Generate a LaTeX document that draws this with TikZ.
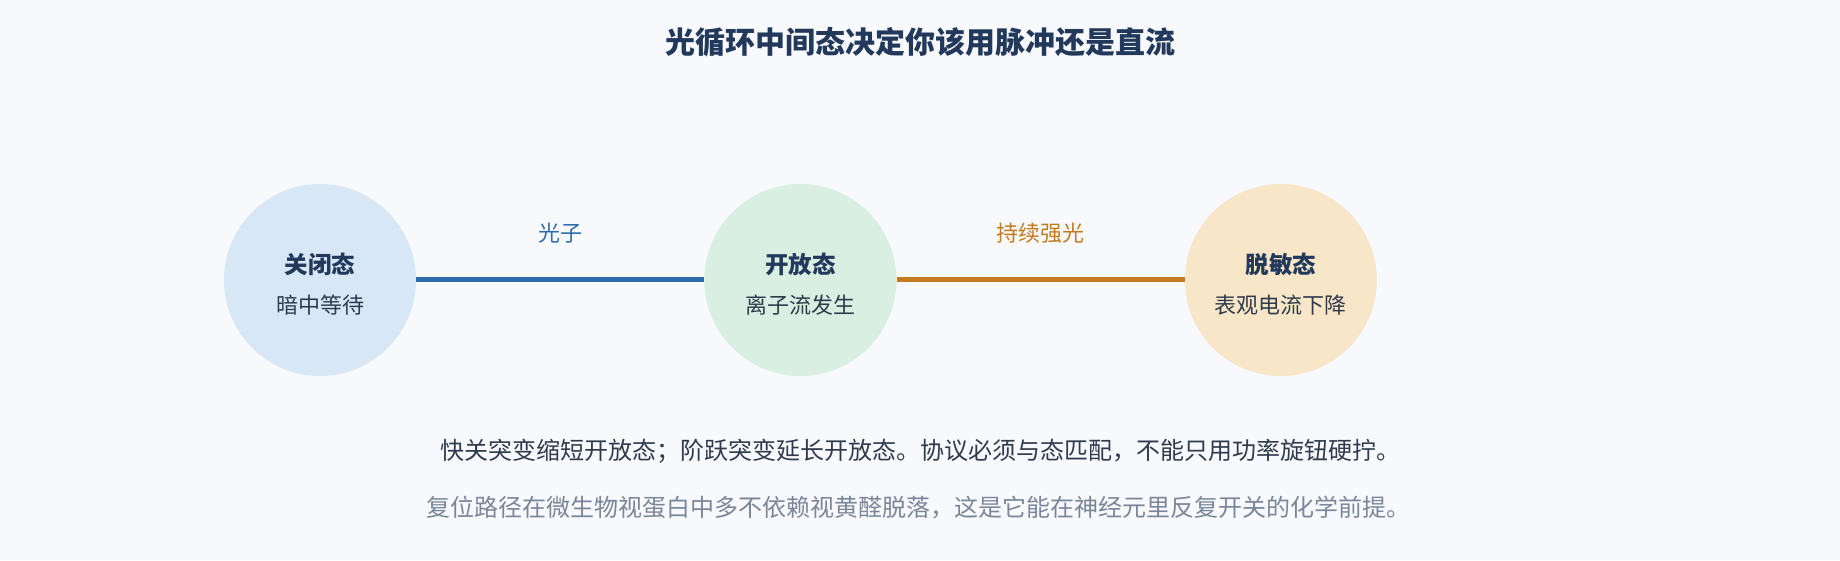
\documentclass[tikz,border=0pt]{standalone}
\usepackage{fontspec}
\setmainfont{Noto Sans CJK SC}
\usetikzlibrary{positioning}

\definecolor{bgcol}{HTML}{F7F9FC}
\definecolor{inkdark}{HTML}{22395C}
\definecolor{inktext}{HTML}{2F3B4D}
\definecolor{inkgrey}{HTML}{7A8699}
\definecolor{lineblue}{HTML}{2F6CAB}
\definecolor{lineorange}{HTML}{C47A1F}
\definecolor{fillblue}{HTML}{D8E7F6}
\definecolor{fillgreen}{HTML}{D8EFE2}
\definecolor{fillorange}{HTML}{F8E6C8}

\newcommand{\statehead}[1]{{\bfseries\fontsize{23.5}{40}\selectfont\color{inkdark}#1}}

\begin{document}
\begin{tikzpicture}[x=1pt, y=1pt,
    node distance = 288pt,
    state/.style = {shape = circle, minimum size = 192pt, inner sep = 0pt},
    statetext/.style = {align = center, text = inktext, yshift = -4pt, font = \fontsize{22}{40}\selectfont},
    closed/.style = {state, fill = fillblue},
    open/.style = {state, fill = fillgreen},
    desens/.style = {state, fill = fillorange},
    link/.style = {line width = 5pt},
    linklabel/.style = {midway, yshift = 47pt, font = \fontsize{22}{26}\selectfont},
    note/.style = {font = \fontsize{24}{28}\selectfont},
    ]
    \fill[bgcol] (0,0) rectangle (1840,560);

    \node[text = inkdark, font = \fontsize{30}{34}\selectfont\bfseries] (title) at (920,518) {光循环中间态决定你该用脉冲还是直流};

    \node[closed] (C) at (320,280) [label = {[statetext]center:\statehead{关闭态}\\暗中等待}] {};
    \node[open] (O) [right = of C, label = {[statetext]center:\statehead{开放态}\\离子流发生}] {};
    \node[desens] (D) [right = of O, label = {[statetext]center:\statehead{脱敏态}\\表观电流下降}] {};

    \draw[link, lineblue] (C) -- node[linklabel] {光子} (O);
    \draw[link, lineorange] (O) -- node[linklabel] {持续强光} (D);

    \node[note, text = inktext] (noteA) at (920,109) {快关突变缩短开放态；阶跃突变延长开放态。协议必须与态匹配，不能只用功率旋钮硬拧。};
    \node[note, text = inkgrey] (noteB) at (918,52) {复位路径在微生物视蛋白中多不依赖视黄醛脱落，这是它能在神经元里反复开关的化学前提。};
\end{tikzpicture}
\end{document}
